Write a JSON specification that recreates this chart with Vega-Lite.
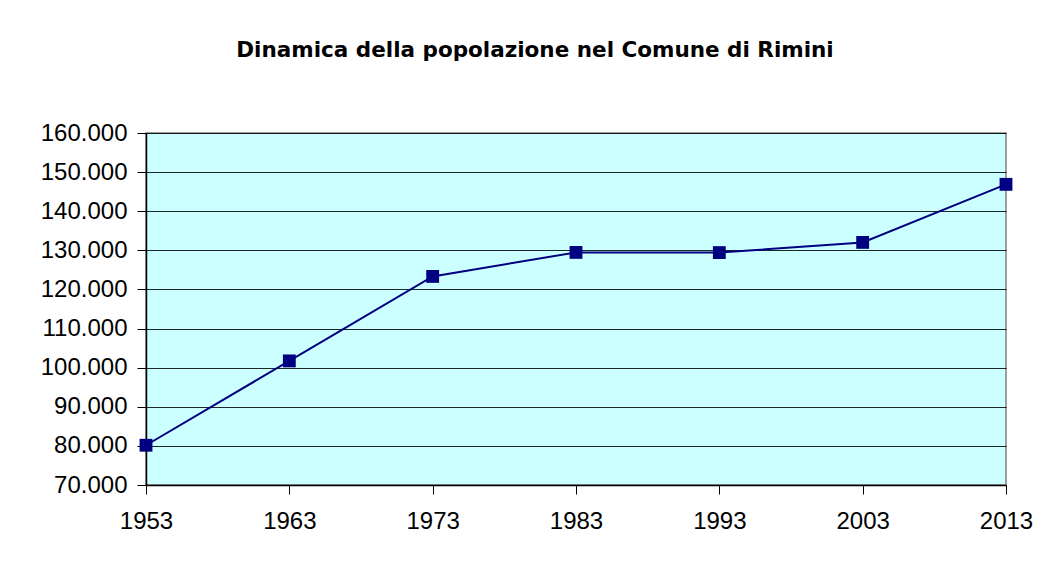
{
  "$schema": "https://vega.github.io/schema/vega-lite/v6.json",
  "width": 860,
  "height": 352,
  "autosize": {"type": "none"},
  "padding": {"left": 146, "top": 133, "right": 38, "bottom": 80},
  "background": "white",
  "config": {
    "locale": {"number": {"decimal": ",", "thousands": ".", "grouping": [3], "currency": ["€", ""]}},
    "view": {"fill": "#CCFFFF", "stroke": "#808080", "strokeWidth": 1.5}
  },
  "title": {
    "text": "Dinamica della popolazione nel Comune di Rimini",
    "font": "DejaVu Sans",
    "fontWeight": "bold",
    "fontSize": 21.5,
    "color": "black",
    "anchor": "middle",
    "dx": -41,
    "offset": 60
  },
  "data": {
    "values": [
      {"anno": 1953, "popolazione": 80160},
      {"anno": 1963, "popolazione": 101730},
      {"anno": 1973, "popolazione": 123330},
      {"anno": 1983, "popolazione": 129470},
      {"anno": 1993, "popolazione": 129420},
      {"anno": 2003, "popolazione": 132030},
      {"anno": 2013, "popolazione": 146870}
    ]
  },
  "encoding": {
    "x": {
      "field": "anno", "type": "quantitative",
      "scale": {"domain": [1953, 2013], "nice": false, "zero": false},
      "axis": {
        "title": null, "values": [1953, 1963, 1973, 1983, 1993, 2003, 2013], "format": "d",
        "grid": false, "domainColor": "black", "domainWidth": 1.5, "tickColor": "black", "tickSize": 9,
        "labelFont": "Liberation Sans", "labelFontSize": 24, "labelColor": "black", "labelPadding": 15,
        "labelFlush": false, "labelOverlap": false
      }
    },
    "y": {
      "field": "popolazione", "type": "quantitative",
      "scale": {"domain": [70000, 160000], "nice": false, "zero": false},
      "axis": {
        "title": null, "values": [70000, 80000, 90000, 100000, 110000, 120000, 130000, 140000, 150000, 160000],
        "format": ",d", "grid": true, "gridColor": "black", "gridWidth": 1, "gridOpacity": 0.85,
        "domainColor": "black", "domainWidth": 1.5, "tickColor": "black", "tickSize": 9,
        "labelFont": "Liberation Sans", "labelFontSize": 24, "labelColor": "black", "labelPadding": 10,
        "labelFlush": false, "labelOverlap": false
      }
    }
  },
  "layer": [
    {"mark": {"type": "line", "color": "#000080", "strokeWidth": 2}},
    {"mark": {"type": "point", "shape": "square", "filled": true, "color": "#000080", "size": 165, "opacity": 1}}
  ]
}
